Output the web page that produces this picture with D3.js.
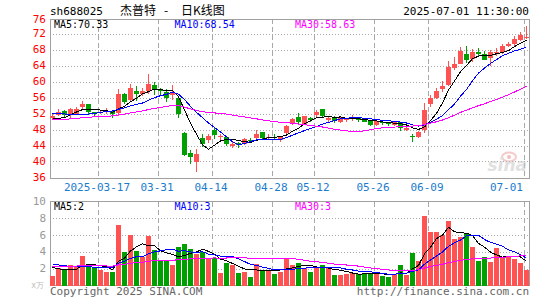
<!DOCTYPE html>
<html>
<head>
<meta charset="utf-8">
<script src="https://cdn.jsdelivr.net/npm/d3@7"></script>
<style>
  body { margin: 0; background: #fff; }
  svg { display: block; font-family: "DejaVu Sans Mono", monospace; font-size: 10px; }
</style>
</head>
<body>
<svg width="545" height="300"></svg>
<script>
'use strict';

var dates = [
  '03-05','03-06','03-07','03-10','03-11','03-12','03-13','03-14','03-17','03-18',
  '03-19','03-20','03-21','03-24','03-25','03-26','03-27','03-28','03-31','04-01',
  '04-02','04-03','04-07','04-08','04-09','04-10','04-11','04-14','04-15','04-16',
  '04-17','04-18','04-21','04-22','04-23','04-24','04-25','04-28','04-29','04-30',
  '05-06','05-07','05-08','05-09','05-12','05-13','05-14','05-15','05-16','05-19',
  '05-20','05-21','05-22','05-23','05-26','05-27','05-28','05-29','05-30','06-03',
  '06-04','06-05','06-06','06-09','06-10','06-11','06-12','06-13','06-16','06-17',
  '06-18','06-19','06-20','06-23','06-24','06-25','06-26','06-27','06-30','07-01'
];

var opens = [
  50.9,51.6,52.7,51.9,51.9,53.6,54.4,52.3,52.3,52.4,
  52.6,52.1,56.9,55.4,57.6,57.0,57.6,59.2,58.0,57.4,
  56.7,55.8,47.2,42.2,39.9,45.8,45.3,48.0,46.1,46.2,
  43.8,44.6,44.4,45.5,45.9,47.3,45.9,46.2,45.3,47.2,
  49.4,51.1,49.5,50.9,51.7,53.2,50.5,51.2,49.8,50.5,
  50.6,50.9,50.7,50.2,49.2,49.8,49.8,49.2,49.8,48.0,
  46.4,46.2,47.8,54.3,56.0,58.1,59.2,63.3,64.5,67.0,
  65.6,67.4,67.0,65.8,67.2,67.5,69.0,69.3,70.3,71.0
];
var highs = [
  51.8,53.1,52.8,53.5,53.6,55.2,54.5,52.5,52.9,53.4,
  52.8,58.2,57.2,59.3,59.0,58.5,61.9,59.9,58.5,58.1,
  59.2,56.0,47.3,42.8,43.2,46.8,46.9,48.4,47.0,46.5,
  44.8,45.0,46.0,45.9,47.8,47.5,46.8,46.9,46.5,49.1,
  51.0,52.1,51.5,51.1,53.0,53.2,51.3,51.4,51.1,51.0,
  51.7,51.0,51.0,50.4,50.5,50.3,50.0,50.1,49.9,48.7,
  46.9,47.6,54.7,56.7,58.3,60.2,65.2,66.2,68.7,68.9,
  68.2,68.3,67.6,67.9,68.3,69.3,69.9,71.4,72.4,73.8
];
var lows = [
  50.6,51.3,51.0,51.0,51.6,52.8,52.0,51.1,52.0,52.0,
  51.0,51.3,54.3,54.8,55.2,56.3,56.8,56.7,56.5,54.9,
  55.5,50.9,41.3,39.5,37.4,43.6,44.6,45.6,45.3,43.9,
  43.5,43.5,44.1,44.8,45.3,45.4,45.5,45.3,44.9,47.0,
  49.2,49.4,49.2,49.8,51.2,51.0,50.0,49.7,49.6,50.0,
  50.2,50.0,49.8,48.8,48.8,49.2,49.0,48.9,47.6,47.6,
  44.8,45.9,47.2,53.7,55.6,57.5,58.9,63.0,64.4,64.7,
  65.0,66.2,65.4,64.0,66.3,67.0,68.6,68.9,70.1,70.6
];
var closes = [
  51.4,52.5,51.6,53.2,53.2,54.4,52.4,51.8,52.5,52.7,
  52.0,56.9,54.9,58.3,56.9,57.7,59.5,58.1,57.6,56.0,
  57.2,52.0,41.6,41.2,42.0,44.3,46.3,46.6,46.4,44.3,
  44.5,44.2,45.6,45.3,47.0,45.8,46.2,45.9,46.3,48.8,
  50.7,49.9,51.3,50.3,52.4,51.4,50.9,50.2,50.8,50.7,
  51.0,50.5,49.9,49.1,50.2,49.7,49.3,49.8,48.3,48.5,
  46.1,47.4,53.0,56.0,57.7,58.9,63.7,64.3,67.7,65.4,
  67.4,66.9,65.5,67.5,67.4,68.9,69.3,70.6,71.7,71.2
];
// volume in 万手
var volumes = [
  1.13,2.04,1.9,2.44,2.24,3.5,2.16,2.04,1.85,1.65,
  1.65,7.2,4.03,6.0,4.15,3.43,5.9,4.2,3.04,2.9,
  2.44,4.54,4.94,4.35,3.75,4.03,3.23,3.23,1.53,2.72,
  2.44,1.53,1.65,1.05,2.56,1.85,1.85,1.4,1.65,3.1,
  2.44,2.72,2.04,1.65,2.16,2.44,2.04,1.25,1.25,1.37,
  1.53,1.37,1.37,1.45,1.65,1.13,0.97,1.37,2.44,1.25,
  3.9,2.96,8.3,6.37,6.37,6.0,7.68,5.54,5.8,6.13,
  4.6,2.96,3.35,2.84,4.42,3.35,3.35,3.15,2.72,1.85
];

// days before the visible window, only feed the moving averages
var priorCloses = [
  49.2,49.8,50.3,49.6,49.0,48.7,49.5,50.2,50.0,49.7,
  49.3,48.9,49.0,49.6,50.1,49.8,49.2,49.5,49.7,49.5,
  52.4,53.8,54.5,53.9,53.4,51.6,50.5,49.9,49.6
];
var priorVolumes = [
  2.1,2.5,1.9,2.3,2.0,2.6,2.2,1.8,2.4,2.2,
  2.3,2.0,2.5,1.9,2.2,2.4,2.1,2.0,2.3,2.3,
  3.2,2.8,3.4,2.6,2.8,2.9,2.4,2.2,2.2
];

var priceTicks = [36, 40, 44, 48, 52, 56, 60, 64, 68, 72, 76];
var volumeTicks = [2, 4, 6, 8, 10];
var tickDates = ['03-17', '03-31', '04-14', '04-28', '05-12', '05-26', '06-09', '07-01'];
var tickLabels = ['2025-03-17', '03-31', '04-14', '04-28', '05-12', '05-26', '06-09', '07-01'];

var maHeader = ['MA5:70.33', 'MA10:68.54', 'MA30:58.63'];
var volHeader = ['MA5:2', 'MA10:3', 'MA30:3'];
var maColors = ['#000', '#0000ff', '#ff00ff'];
var maPeriods = [5, 10, 30];

var RED = '#ff5252', GREEN = '#00a000', GRID = '#a8a8a8', FRAME = '#a0a0a0';

var svg = d3.select('svg');
var left = 50, right = 529;
var priceTop = 19, priceBottom = 177.5;
var volTop = 201.5, volBottom = 285.5;

var x = d3.scaleBand()
  .domain(dates)
  .range([50, 530]);
var bodyWidth = 5;
function cx(d) { return x(d) + 2.5; }

var y = d3.scaleLinear()
  .domain([36, 75.625])
  .range([priceBottom, priceTop]);

var yv = d3.scaleLinear()
  .domain([0, 10])
  .range([volBottom, volTop]);

function movingAverage(series, prior, n) {
  var all = prior.concat(series);
  return series.map(function(v, i) {
    var end = prior.length + i + 1;
    return d3.mean(all.slice(end - n, end));
  });
}

function isUp(i) { return closes[i] >= opens[i]; }

// ---- grids and frames
function panelGrid(g, top, bottom, rows) {
  g.selectAll('line.h').data(rows).enter().append('line')
    .attr('x1', left).attr('x2', right)
    .attr('y1', function(d) { return Math.round(d) + 0.5; })
    .attr('y2', function(d) { return Math.round(d) + 0.5; })
    .attr('stroke', GRID)
    .attr('stroke-dasharray', '1,2');

  g.selectAll('line.v').data(tickDates).enter().append('line')
    .attr('x1', function(d) { return x(d) + 0.5; })
    .attr('x2', function(d) { return x(d) + 0.5; })
    .attr('y1', top).attr('y2', bottom)
    .attr('stroke', GRID)
    .attr('stroke-dasharray', '5,3');

  g.append('rect')
    .attr('x', left + 0.5).attr('y', top + (top % 1 ? 0 : 0.5))
    .attr('width', right - left)
    .attr('height', bottom - top)
    .attr('fill', 'none')
    .attr('stroke', FRAME);
}

var gGrid = svg.append('g').attr('shape-rendering', 'crispEdges');
panelGrid(gGrid.append('g'), priceTop, priceBottom,
  priceTicks.slice(1, -1).map(function(v) { return y(v); }));
panelGrid(gGrid.append('g'), volTop, volBottom,
  volumeTicks.slice(0, -1).map(function(v) { return yv(v); }));

// ---- sina watermark
var gMark = svg.append('g').attr('opacity', 0.55);
gMark.append('ellipse')
  .attr('cx', 509).attr('cy', 157).attr('rx', 7).attr('ry', 4.5)
  .attr('fill', 'none').attr('stroke', '#f0a0a0').attr('stroke-width', 2);
gMark.append('circle')
  .attr('cx', 509).attr('cy', 157).attr('r', 2)
  .attr('fill', '#e88');
gMark.append('text')
  .attr('x', 527).attr('y', 171)
  .attr('text-anchor', 'end')
  .attr('font-family', 'DejaVu Sans, sans-serif')
  .attr('font-style', 'italic').attr('font-weight', 'bold')
  .attr('font-size', 17).attr('fill', '#c8c8c8')
  .text('sina');

// ---- candles
var idx = d3.range(dates.length);
var gCandles = svg.append('g').attr('shape-rendering', 'crispEdges');

gCandles.selectAll('line').data(idx).enter().append('line')
  .attr('x1', function(i) { return Math.floor(cx(dates[i])) + 0.5; })
  .attr('x2', function(i) { return Math.floor(cx(dates[i])) + 0.5; })
  .attr('y1', function(i) { return y(highs[i]); })
  .attr('y2', function(i) { return y(lows[i]); })
  .attr('stroke', function(i) { return isUp(i) ? RED : GREEN; });

gCandles.selectAll('rect').data(idx).enter().append('rect')
  .attr('x', function(i) { return x(dates[i]); })
  .attr('width', bodyWidth)
  .attr('y', function(i) { return y(Math.max(opens[i], closes[i])); })
  .attr('height', function(i) {
    return Math.max(1, Math.abs(y(opens[i]) - y(closes[i])));
  })
  .attr('fill', function(i) { return isUp(i) ? RED : GREEN; });

// ---- volume bars
svg.append('g').attr('shape-rendering', 'crispEdges')
  .selectAll('rect').data(idx).enter().append('rect')
    .attr('x', function(i) { return x(dates[i]); })
    .attr('width', bodyWidth)
    .attr('y', function(i) { return yv(volumes[i]); })
    .attr('height', function(i) { return volBottom - yv(volumes[i]); })
    .attr('fill', function(i) { return isUp(i) ? RED : GREEN; });

// ---- moving averages
function drawMA(series, prior, scale) {
  var g = svg.append('g').attr('fill', 'none').attr('shape-rendering', 'crispEdges');
  maPeriods.forEach(function(n, k) {
    var ma = movingAverage(series, prior, n);
    var line = d3.line()
      .x(function(v, i) { return cx(dates[i]); })
      .y(function(v) { return scale(v); });
    g.append('path')
      .attr('d', line(ma))
      .attr('stroke', maColors[k])
      .attr('stroke-width', 1);
  });
}
drawMA(closes, priorCloses, y);
drawMA(volumes, priorVolumes, yv);

// ---- texts
var headerX = [54, 174.5, 295];
svg.append('g').selectAll('text').data(maHeader).enter().append('text')
  .attr('x', function(d, k) { return headerX[k]; })
  .attr('y', 28)
  .attr('fill', function(d, k) { return maColors[k]; })
  .text(function(d) { return d; });

svg.append('g').selectAll('text').data(volHeader).enter().append('text')
  .attr('x', function(d, k) { return headerX[k]; })
  .attr('y', 210)
  .attr('fill', function(d, k) { return maColors[k]; })
  .text(function(d) { return d; });

svg.append('g').selectAll('text').data(priceTicks).enter().append('text')
  .attr('x', 46)
  .attr('y', function(d) { return Math.max(y(d), priceTop) + 3.5; })
  .attr('text-anchor', 'end')
  .attr('fill', '#ff0000')
  .attr('font-size', 11)
  .text(function(d) { return d; });

svg.append('g').selectAll('text').data(volumeTicks).enter().append('text')
  .attr('x', 46)
  .attr('y', function(d) { return yv(d) + 3.5; })
  .attr('text-anchor', 'end')
  .attr('fill', '#999')
  .attr('font-size', 11)
  .text(function(d) { return d; });

svg.append('text')
  .attr('x', 44).attr('y', 288)
  .attr('text-anchor', 'end')
  .attr('fill', '#bbb')
  .attr('font-size', 8)
  .text('x万');

// last date label is pulled inside the frame
var lastTick = tickDates[tickDates.length - 1];
svg.append('g').selectAll('text').data(tickDates).enter().append('text')
  .attr('x', function(d) { return d === lastTick ? 523 : x(d) - 1; })
  .attr('y', 190.5)
  .attr('text-anchor', function(d) { return d === lastTick ? 'end' : 'middle'; })
  .attr('fill', '#1a7ccc')
  .attr('font-size', 11)
  .text(function(d, k) { return tickLabels[k]; });

svg.append('text')
  .attr('x', 50).attr('y', 15)
  .attr('font-size', 11)
  .text('sh688025');

var cjk = svg.append('g')
  .attr('font-family', '"Noto Sans CJK SC", sans-serif')
  .attr('font-size', 12);
cjk.append('text').attr('x', 120).attr('y', 15).text('杰普特');
cjk.append('text').attr('x', 164).attr('y', 15).text('-');
cjk.append('text').attr('x', 181).attr('y', 15).text('日K线图');

svg.append('text')
  .attr('x', 529).attr('y', 15)
  .attr('text-anchor', 'end')
  .attr('font-size', 11)
  .text('2025-07-01 11:30:00');

svg.append('text')
  .attr('x', 50).attr('y', 295)
  .attr('fill', '#666')
  .attr('font-size', 11)
  .text('Copyright 2025 SINA.COM');

svg.append('text')
  .attr('x', 529).attr('y', 295)
  .attr('text-anchor', 'end')
  .attr('fill', '#666')
  .attr('font-size', 11)
  .text('http://finance.sina.com.cn');
</script>
</body>
</html>
